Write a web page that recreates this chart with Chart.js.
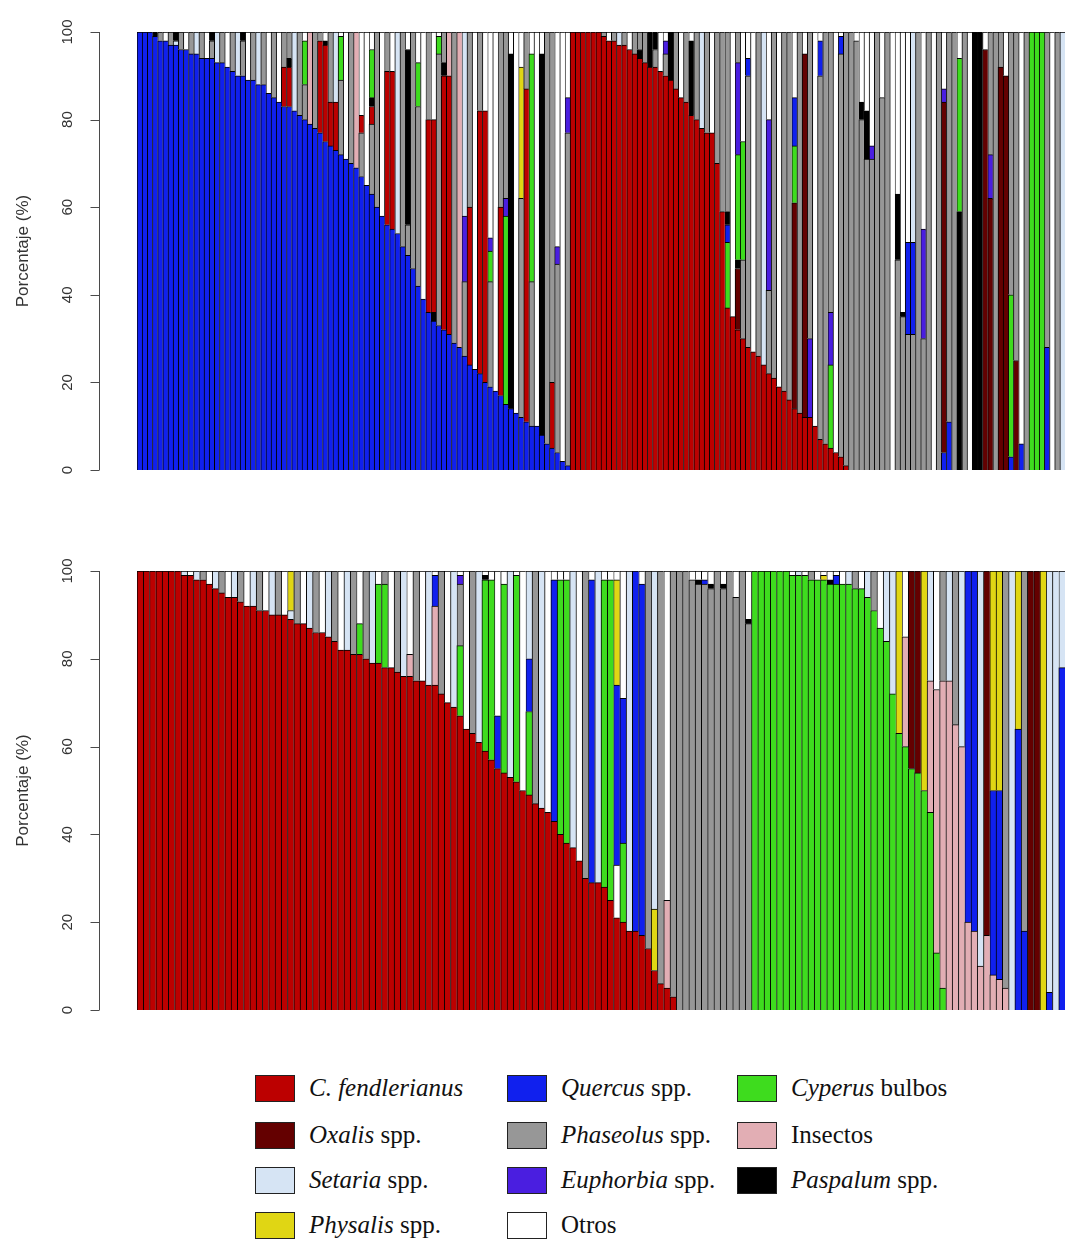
<!DOCTYPE html>
<html>
<head>
<meta charset="utf-8">
<script src="https://cdn.jsdelivr.net/npm/chart.js@4.4.1/dist/chart.umd.min.js"></script>
<style>
  body { margin: 0; background: #fff; width: 1068px; height: 1241px; position: relative; overflow: hidden; }
  canvas { position: absolute; left: 0; }
  #topChart { top: 0; }
  #bottomChart { top: 540px; }
  .item { position: absolute; height: 32px; display: flex; align-items: center;
          font-family: "Liberation Serif", "Times New Roman", serif; font-size: 25px; color: #111; white-space: nowrap; }
  .sw { width: 40px; height: 27px; border: 1px solid #222; box-sizing: border-box; margin-right: 14px; }
  .item i { font-style: italic; }
</style>
</head>
<body>
<canvas id="topChart" width="1068" height="520"></canvas>
<canvas id="bottomChart" width="1068" height="520"></canvas>
<div id="legend"></div>
<script>
// categories (legend order) and the short codes used in the bar lists below
const categoryCodes  = ["C", "O", "S", "Y", "Q", "P", "E", "X", "G", "I", "K"];
const categoryItalic = ["C. fendlerianus", "Oxalis", "Setaria", "Physalis", "Quercus", "Phaseolus", "Euphorbia", "", "Cyperus", "", "Paspalum"];
const categoryPlain  = ["", " spp.", " spp.", " spp.", " spp.", " spp.", " spp.", "Otros", " bulbos", "Insectos", " spp."];

const yTicks = [0, 20, 40, 60, 80, 100];
const yTitle = "Porcentaje (%)";

// each bar: segments bottom -> top, code + percentage
const topBars = [
  "Q100","Q100","Q100","Q99 K1","Q98 P2","Q98 X2","Q97 P3","Q97 S1 K2","Q96 P4","Q96 X4",
  "Q95 P5","Q95 S5","Q94 P6","Q94 X6","Q94 P4 K2","Q93 S7","Q93 P7","Q92 X8","Q91 P9","Q90 S10",
  "Q90 P8 K2","Q89 X11","Q89 P11","Q88 S12","Q88 P12","Q86 X14","Q85 P15","Q84 X16","Q83 C9 P8","Q83 C9 K2 P6",
  "Q82 S18","Q81 P19","Q80 P8 G10 X2","Q79 I21","Q78 P22","Q77 C21 P2","Q75 C22 K1 X2","Q74 C10 P16","Q73 C11 S16","Q72 P17 G10 X1",
  "Q71 X29","Q70 P30","Q69 I31","Q67 P10 C4 X19","Q65 X35","Q63 P16 C4 K2 G11 X4","Q60 P40","Q58 X42","Q56 C35 P9","Q55 C36 X9",
  "Q54 S46","Q51 P49","Q49 P7 K40 X4","Q46 P54","Q42 P41 G10 X7","Q39 X61","Q36 C44 P20","Q34 K2 C44 X20","Q33 P62 G4 X1","Q32 C58 K3 P7",
  "Q31 C59 I10","Q29 P71","Q28 I72","Q26 P17 E15 S42","Q24 C36 P40","Q23 X77","Q22 C60 P18","Q20 C62 X18","Q19 P24 G7 E3 X47","Q18 X82",
  "Q17 C43 P40","Q15 G43 E4 P38","Q14 K81 X5","Q13 X87","Q12 P50 Y30 X8","Q11 C76 P13","Q10 P33 G52 X5","Q10 X90","Q8 K87 X5","Q6 P94",
  "Q5 C15 P80","Q4 P43 E4 X49","Q2 X98","Q1 P76 E8 X15",
  "C100","C100","C100","C100","C100","C100","C99 P1","C98 X2","C98 P2","C97 S3",
  "C97 P3","C96 X4","C95 P5","C94 K2 P4","C93 P7","C92 K8","C92 P4 K4","C91 X9","C90 P5 E3 X2","C89 K11",
  "C87 P13","C85 X15","C84 P16","C81 K17 X2","C80 P20","C78 S22","C77 P23","C77 X23","C70 P30","C59 P41",
  "C37 G15 Q4 K3 P41","C35 X65","C32 O14 K2 G24 E21 P7","C30 P18 G27 X25","C28 P62 Q4 X6","C27 X73","C26 P74","C24 S76","C22 P19 E39 X20","C21 P79",
  "C19 X81","C18 P82","C16 P84","C14 O47 G13 Q11 X15","C13 P87","C12 O83 X5","C12 E18 P70","C10 X90","C7 P83 Q8 X2","C6 P94",
  "C5 G19 E12 P64","C4 X96","C3 P92 Q4 X1","C1 P99",
  "P100","P98 X2","P80 K4 X16","P71 K11 X18","P71 E3 X26","P100","P85 X15","P100","X100","P48 K15 X37",
  "P35 K1 X64","P31 Q21 X48","P31 Q21 S48","P100","P30 E25 X45","P100","X100","P100","Q4 O80 E3 X13","Q11 P89",
  "P100","K59 G35 X6","P100","X100","K100","K100","O96 X4","O62 E10 P28","P100","O92 P8",
  "O90 X10","Q3 G37 P60","O25 P75","Q6 X94","P100","G100","G100","G100","Q28 P72","X100",
  "P100","S100"
];

const bottomBars = [
  "C100","C100","C100","C100","C100","C100","C100","C99 S1","C99 X1","C98 S2",
  "C98 P2","C97 X3","C96 S4","C95 P5","C94 X6","C94 S6","C93 P7","C92 X8","C92 S8","C91 P9",
  "C91 X9","C90 S10","C90 P10","C90 X10","C89 S2 Y9","C88 P12","C88 X12","C87 S13","C86 P14","C86 X14",
  "C85 S15","C84 P16","C82 X18","C82 S18","C81 P19","C81 G7 X12","C80 P20","C79 S21","C79 G18 X3","C78 G19 P3",
  "C78 X22","C77 P23","C76 S24","C76 I5 X19","C75 P25","C75 X25","C74 S26","C74 I18 Q7 X1","C72 P28","C70 X30",
  "C69 S31","C67 G16 P14 E2 X1","C64 X36","C63 P37","C61 S39","C59 G39 K1 X1","C57 G41 X2","C55 Q12 X33","C54 G43 X3","C53 S47",
  "C52 G47 X1","C50 X50","C49 G19 Q12 S20","C47 P53","C46 S54","C45 X55","C43 Q55 X2","C40 G58 X2","C38 G60 X2","C37 S63",
  "C34 X66","C30 P70","C29 Q69 X2","C29 S71","C28 G70 X2","C25 G73 X2","C21 X12 Q41 Y24 X2","C20 G18 Q33 X29","C18 S82","C18 Q82",
  "C17 Q80 X3","C14 P86","C9 Y14 S77","C6 P94","C5 I20 X75","C3 P97",
  "P100","P100","P98 X2","P97 K1 X2","P97 Q1 X2","P96 K1 X3","P100","P96 K1 X3","P100","P94 X6",
  "P100","P88 K1 X11",
  "G100","G100","G100","G100","G100","G100","G99 X1","G99 S1","G99 X1","G98 P2",
  "G98 X2","G98 Y1 X1","G97 K1 X2","G97 Q2 X1","G97 X3","G97 S3","G96 P4","G96 X4","G94 S6","G91 P9",
  "G87 X13","G84 S16","G72 S28","G63 Y37","G60 I25 X15","G55 O45","G54 O46","G50 Y50","G45 I30 S25","G13 I60 X27",
  "G5 I70 P25",
  "I75 S25","I65 P35","I60 S40","I20 Q80","I18 Q82","I10 S90","I17 O83","I8 Q42 Y50","I7 Q43 Y50","I5 P95",
  "S100","Q64 Y36","Q18 P82","O100","O100","Y100","Q4 S96","S100","Q78 S22"
];

// colours, same order as categoryCodes
const palette = ["#bc0000", "#640000", "#d6e4f4", "#e0d614", "#1020ee", "#979797",
                 "#4a1ee0", "#ffffff", "#3edc1e", "#e2aeb4", "#000000"];

function buildDatasets(bars) {
  const segs = bars.map(b => b.split(' ').map(t => ({ code: t[0], value: Number(t.slice(1)) })));
  const layers = Math.max(...segs.map(s => s.length));
  const datasets = [];
  for (let k = 0; k < layers; k++) {
    datasets.push({
      data: segs.map(s => s[k] ? s[k].value : null),
      backgroundColor: segs.map(s => s[k] ? palette[categoryCodes.indexOf(s[k].code)] : 'rgba(0,0,0,0)'),
      borderColor: '#000',
      borderWidth: { top: 1, left: 1, right: 0, bottom: 0 },
      borderSkipped: false,
      stack: 'diet'
    });
  }
  return datasets;
}

// R-style y axis, drawn from the chart's own y scale
const rAxis = {
  id: 'rAxis',
  afterDraw(chart) {
    const { ctx, chartArea } = chart;
    const y = chart.scales.y;
    const axisX = 99.5;
    ctx.save();
    ctx.strokeStyle = '#4a4a4a';
    ctx.lineWidth = 1;
    ctx.beginPath();
    ctx.moveTo(axisX, y.getPixelForValue(yTicks[0]));
    ctx.lineTo(axisX, y.getPixelForValue(yTicks[yTicks.length - 1]));
    yTicks.forEach(t => {
      const py = Math.round(y.getPixelForValue(t)) + 0.5;
      ctx.moveTo(axisX - 9, py);
      ctx.lineTo(axisX, py);
    });
    ctx.stroke();
    ctx.fillStyle = '#333';
    ctx.textAlign = 'center';
    ctx.textBaseline = 'middle';
    ctx.font = '15px "Liberation Sans", Arial, sans-serif';
    yTicks.forEach(t => {
      ctx.save();
      ctx.translate(68, y.getPixelForValue(t));
      ctx.rotate(-Math.PI / 2);
      ctx.fillText(String(t), 0, 0);
      ctx.restore();
    });
    ctx.font = '17px "Liberation Sans", Arial, sans-serif';
    ctx.translate(23, (chartArea.top + chartArea.bottom) / 2);
    ctx.rotate(-Math.PI / 2);
    ctx.fillText(yTitle, 0, 0);
    ctx.restore();
  }
};

function makeChart(id, bars, padTop) {
  new Chart(document.getElementById(id), {
    type: 'bar',
    data: {
      labels: bars.map((_, i) => String(i + 1)),
      datasets: buildDatasets(bars)
    },
    options: {
      responsive: false,
      animation: false,
      layout: { padding: { left: 137, right: 3, top: padTop, bottom: 50 } },
      datasets: { bar: { barPercentage: 1, categoryPercentage: 1 } },
      plugins: { legend: { display: false }, tooltip: { enabled: false } },
      scales: {
        x: { stacked: true, display: false },
        y: { stacked: true, display: false, min: 0, max: 100 }
      }
    },
    plugins: [rAxis]
  });
}

makeChart('topChart', topBars, 32);
makeChart('bottomChart', bottomBars, 31);

// legend, three columns like the original
const legendCols = [255, 507, 737];
const legendRows = [1088, 1135, 1180, 1225];
const legend = document.getElementById('legend');
categoryCodes.forEach((code, i) => {
  const col = Math.floor(i / 4), row = i % 4;
  const el = document.createElement('div');
  el.className = 'item';
  el.style.left = legendCols[col] + 'px';
  el.style.top = (legendRows[row] - 16) + 'px';
  const sw = document.createElement('span');
  sw.className = 'sw';
  sw.style.background = palette[i];
  el.appendChild(sw);
  const label = document.createElement('span');
  if (categoryItalic[i]) {
    const it = document.createElement('i');
    it.textContent = categoryItalic[i];
    label.appendChild(it);
  }
  label.appendChild(document.createTextNode(categoryPlain[i]));
  el.appendChild(label);
  legend.appendChild(el);
});
</script>
</body>
</html>
